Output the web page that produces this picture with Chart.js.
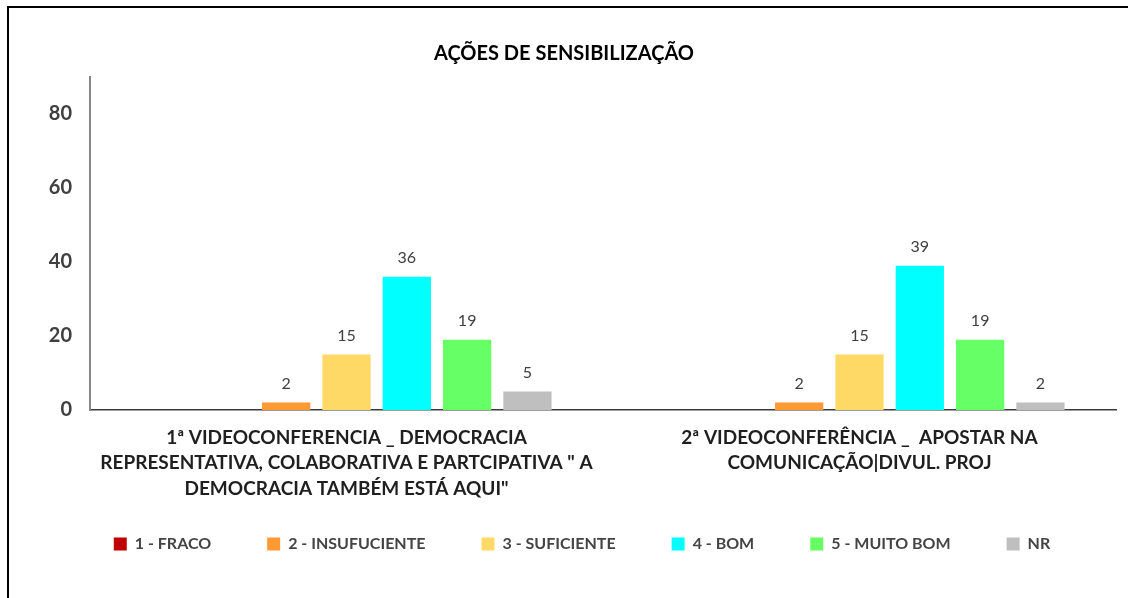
<!DOCTYPE html>
<html>
<head>
<meta charset="utf-8">
<script src="https://cdn.jsdelivr.net/npm/chart.js@4.4.1/dist/chart.umd.min.js"></script>
<style>
    html, body { margin: 0; padding: 0; background: #fff; }
    #wrap { position: relative; width: 1128px; height: 598px; overflow: hidden; }
    #frame { position: absolute; left: 7px; top: 6px; width: 1200px; height: 700px; border: 2.5px solid #000; box-sizing: border-box; pointer-events: none; }
    canvas { position: absolute; left: 0; top: 0; }
</style>
</head>
<body>
<div id="wrap">
    <canvas id="myChart" width="1128" height="598"></canvas>
    <div id="frame"></div>
</div>
<script>
const chartTitle = 'AÇÕES DE SENSIBILIZAÇÃO';
const categories = [
    ['1ª VIDEOCONFERENCIA _ DEMOCRACIA', 'REPRESENTATIVA, COLABORATIVA E PARTCIPATIVA " A', 'DEMOCRACIA TAMBÉM ESTÁ AQUI"'],
    ['2ª VIDEOCONFERÊNCIA _  APOSTAR NA', 'COMUNICAÇÃO|DIVUL. PROJ']
];
const seriesNames = ['', '1 - FRACO', '2 - INSUFUCIENTE', '3 - SUFICIENTE', '4 - BOM', '5 - MUITO BOM', 'NR'];
const blankValues = [null, null];
const fracoValues = [null, null];
const insuficienteValues = [2, 2];
const suficienteValues = [15, 15];
const bomValues = [36, 39];
const muitoBomValues = [19, 19];
const nrValues = [5, 2];
const yTicks = [0, 20, 40, 60, 80];

const seriesValues = [blankValues, fracoValues, insuficienteValues, suficienteValues, bomValues, muitoBomValues, nrValues];
const seriesColors = ['#ffffff', '#C00000', '#FF9933', '#FFD966', '#00FFFF', '#66FF66', '#BFBFBF'];

// value labels above each bar
const barLabels = {
    id: 'barLabels',
    afterLayout(chart) {
        // keep the title centred on the whole canvas
        chart.titleBlock.left = 0;
        chart.titleBlock.right = chart.width;
    },
    afterDatasetsDraw(chart) {
        const ctx = chart.ctx;
        ctx.save();
        ctx.font = '16px Lato';
        ctx.fillStyle = '#404040';
        ctx.textAlign = 'center';
        ctx.textBaseline = 'middle';
        chart.data.datasets.forEach((ds, i) => {
            const meta = chart.getDatasetMeta(i);
            meta.data.forEach((bar, j) => {
                const v = ds.data[j];
                if (v === null || v === undefined) return;
                ctx.fillText(String(v), bar.x, bar.y - 19);
            });
        });
        ctx.restore();
    }
};

const datasets = seriesNames.map((name, i) => ({
    label: name,
    data: seriesValues[i],
    backgroundColor: seriesColors[i],
    borderWidth: 0,
    barPercentage: 0.8,
    categoryPercentage: 0.823
}));

const ctx = document.getElementById('myChart').getContext('2d');
const myChart = new Chart(ctx, {
    type: 'bar',
    data: {
        labels: categories,
        datasets: datasets
    },
    options: {
        responsive: false,
        animation: false,
        layout: {
            padding: { top: 0, left: 36, right: 0, bottom: 36 }
        },
        scales: {
            x: {
                grid: { display: false, drawTicks: false },
                border: { display: true, color: '#3a3a3a', width: 1.5 },
                ticks: {
                    maxRotation: 0,
                    autoSkip: false,
                    padding: 15,
                    color: '#1f1f1f',
                    font: { family: 'Lato', size: 19, weight: 'bold', lineHeight: 1.34 }
                },
                afterFit(scale) {
                    scale.height = 70;
                    scale._computeLabelArea = () => undefined; // don't clip the 3-line label
                }
            },
            y: {
                min: 0,
                max: 90,
                grid: { display: false, drawTicks: false },
                border: { display: true, color: '#868686', width: 2 },
                ticks: {
                    stepSize: 20,
                    padding: 18,
                    color: '#404040',
                    font: { family: 'Lato', size: 20, weight: 'bold' }
                },
                afterBuildTicks(scale) {
                    scale.ticks = yTicks.map(v => ({ value: v }));
                },
                afterFit(scale) { scale.width = 54; }
            },
            y2: {
                position: 'right',
                grid: { display: false, drawTicks: false },
                border: { display: false },
                ticks: { display: false },
                afterFit(scale) { scale.width = 12; }
            }
        },
        plugins: {
            title: {
                display: true,
                text: chartTitle,
                color: '#000000',
                padding: { top: 42, bottom: 11 },
                font: { family: 'Lato', size: 20, weight: 'bold', lineHeight: 1.2 }
            },
            legend: {
                position: 'bottom',
                labels: {
                    filter: item => item.text !== '',
                    boxWidth: 13,
                    boxHeight: 13,
                    padding: 56,
                    color: '#444444',
                    font: { family: 'Lato', size: 16, weight: 'bold' }
                }
            },
            tooltip: { enabled: false }
        }
    },
    plugins: [barLabels]
});
</script>
</body>
</html>
